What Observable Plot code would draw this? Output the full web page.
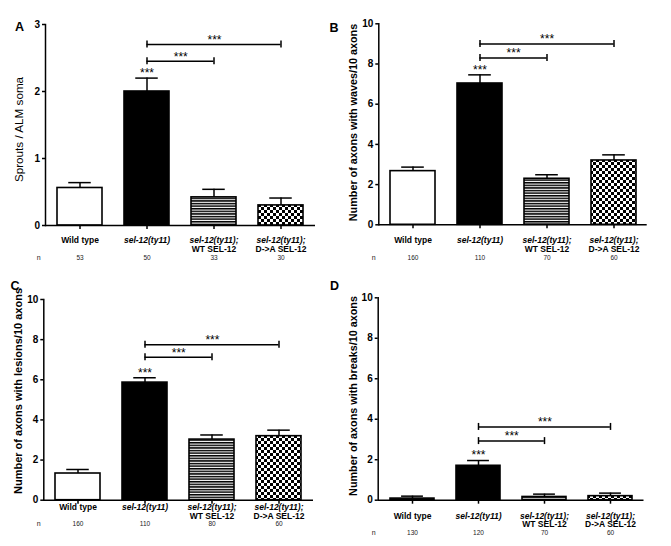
<!DOCTYPE html>
<html><head><meta charset="utf-8">
<script src="https://cdn.jsdelivr.net/npm/d3@7"></script>
<script src="https://cdn.jsdelivr.net/npm/@observablehq/plot@0.6"></script>
<style>
body{margin:0;background:#fff;}
#wrap{position:relative;width:671px;height:546px;overflow:hidden;}
.panel{position:absolute;}
</style></head><body><div id="wrap"></div>
<script>
// ---- data ----
const categories = ["Wild type", "sel-12(ty11)", "sel-12(ty11); WT SEL-12", "sel-12(ty11); D->A SEL-12"];
const labelLine1 = ["Wild type", "sel-12(ty11)", "sel-12(ty11);", "sel-12(ty11);"];
const italicLine1 = [false, true, true, true];
const labelLine2 = ["", "", "WT SEL-12", "D->A SEL-12"];

const meansA = [0.56, 2.0, 0.42, 0.30];
const errTopA = [0.64, 2.2, 0.54, 0.41];
const nA = [53, 50, 33, 30];
const bracketLevelsA = [2.45, 2.7];

const meansB = [2.67, 7.03, 2.29, 3.2];
const errTopB = [2.87, 7.46, 2.49, 3.48];
const nB = [160, 110, 70, 60];
const bracketLevelsB = [8.3, 9.0];

const meansC = [1.33, 5.86, 3.02, 3.19];
const errTopC = [1.53, 6.1, 3.25, 3.49];
const nC = [160, 110, 80, 60];
const bracketLevelsC = [7.12, 7.75];

const meansD = [0.08, 1.70, 0.16, 0.2];
const errTopD = [0.2, 1.96, 0.3, 0.35];
const nD = [130, 120, 70, 60];
const bracketLevelsD = [2.92, 3.62];

const bracketFrom = 1;
const bracketTo = [2, 3];
const ticksA = [0, 1, 2, 3];
const ticks10 = [0, 2, 4, 6, 8, 10];

const font = "'Liberation Sans', Arial, Helvetica, sans-serif";

const panels = [
  {key:"A", letter:"A", left:0, top:0, width:335, ml:45, mr:20, mt:24, mb:48, ymax:3, ticks:ticksA,
   means:meansA, errs:errTopA, n:nA, levels:bracketLevelsA, ylabel:"Sprouts / ALM soma", ylBold:false, ylSize:11.7,
   ylx:19, yly:129, lx:19, ly:26, l1:15, l2:23.5, nd:32},
  {key:"B", letter:"B", left:335, top:0, width:336, ml:43.3, mr:24.3, mt:23.3, mb:48.7, ymax:10, ticks:ticks10,
   means:meansB, errs:errTopB, n:nB, levels:bracketLevelsB, ylabel:"Number of axons with waves/10 axons", ylBold:true, ylSize:10.8,
   ylx:18.3, yly:122, lx:-1.5, ly:27, l1:15, l2:24, nd:33},
  {key:"C", letter:"C", left:0, top:273, width:335, ml:43.3, mr:22, mt:26, mb:46.3, ymax:10, ticks:ticks10,
   means:meansC, errs:errTopC, n:nC, levels:bracketLevelsC, ylabel:"Number of axons with lesions/10 axons", ylBold:true, ylSize:11,
   ylx:18.3, yly:117.5, lx:14.5, ly:12, l1:7, l2:16, nd:23.5},
  {key:"D", letter:"D", left:335, top:273, width:336, ml:42.7, mr:27.5, mt:24.3, mb:46.3, ymax:10, ticks:ticks10,
   means:meansD, errs:errTopD, n:nD, levels:bracketLevelsD, ylabel:"Number of axons with breaks/10 axons", ylBold:true, ylSize:10.8,
   ylx:18.3, yly:122.5, lx:-1, ly:12.5, l1:16, l2:24.5, nd:33}
];

function makePanel(p) {
  const H = 273;
  const fw = p.width - p.ml - p.mr;
  const step = fw / 4;
  const bw = step * 2 / 3;
  const rows = categories.map((c, i) => ({cat: c, mean: p.means[i], err: p.errs[i], n: p.n[i],
    l1: labelLine1[i], l2: labelLine2[i], italic: italicLine1[i]}));
  const brk = bracketTo.map((t, j) => ({from: categories[bracketFrom], to: categories[t], y: p.levels[j], span: t - bracketFrom}));
  const caps = brk.flatMap(b => [{cat: b.from, y: b.y}, {cat: b.to, y: b.y}]);
  const idH = "hs-" + p.key, idC = "ck-" + p.key;
  const frameMidY = (p.mt + (H - p.mb)) / 2;

  const svg = Plot.plot({
    width: p.width, height: H,
    marginLeft: p.ml, marginRight: p.mr, marginTop: p.mt, marginBottom: p.mb,
    style: {fontFamily: font, background: "transparent", overflow: "visible", color: "black"},
    x: {type: "band", domain: categories, paddingInner: 1/3, paddingOuter: 1/6},
    y: {domain: [0, p.ymax]},
    color: {domain: categories, range: ["white", "black", `url(#${idH})`, `url(#${idC})`]},
    marks: [
      Plot.ruleX(rows, {x: "cat", y1: "mean", y2: "err", stroke: "black", strokeWidth: 1.5}),
      Plot.tickY(rows, {x: "cat", y: "err", insetLeft: bw / 4, insetRight: bw / 4, stroke: "black", strokeWidth: 1.5}),
      Plot.barY(rows, {x: "cat", y: "mean", fill: "cat", stroke: "black", strokeWidth: 1.6}),
      Plot.ruleY([0], {stroke: "black", strokeWidth: 1.5}),
      Plot.frame({anchor: "left", stroke: "black", strokeWidth: 1.5}),
      Plot.axisY({ticks: p.ticks, tickFormat: d => String(d), tickSize: 3, tickPadding: 2.5, fontSize: 10, fontWeight: "bold", label: null, strokeWidth: 1.5}),
      Plot.axisX({tickSize: 4, tickFormat: () => "", label: null, strokeWidth: 1.5}),
      // x labels
      Plot.text(rows.filter(r => r.italic), {x: "cat", text: "l1", frameAnchor: "bottom", textAnchor: "middle", lineAnchor: "middle",
        dy: p.l1, fontSize: 8.5, fontWeight: "bold", fontStyle: "italic"}),
      Plot.text(rows.filter(r => !r.italic), {x: "cat", text: "l1", frameAnchor: "bottom", textAnchor: "middle", lineAnchor: "middle",
        dy: p.l1, fontSize: 8.5, fontWeight: "bold"}),
      Plot.text(rows.filter(r => r.l2), {x: "cat", text: "l2", frameAnchor: "bottom", textAnchor: "middle", lineAnchor: "middle",
        dy: p.l2, fontSize: 8.5, fontWeight: "bold"}),
      // n row
      Plot.text(rows, {x: "cat", text: d => String(d.n), frameAnchor: "bottom", textAnchor: "middle", lineAnchor: "middle",
        dy: p.nd, fontSize: 6.5, fill: "#222"}),
      Plot.text(["n"], {text: d => d, frameAnchor: "bottom-left", textAnchor: "middle", lineAnchor: "middle",
        dx: 38.3 - p.ml, dy: p.nd, fontSize: 7, fill: "#222"}),
      // significance
      Plot.text([rows[bracketFrom]], {x: "cat", y: "err", text: () => "***", dy: -5, fontSize: 12}),
      Plot.ruleY(brk, {y: "y", x1: "from", x2: "to", insetLeft: bw / 2, insetRight: bw / 2, stroke: "black", strokeWidth: 1.5}),
      Plot.ruleX(caps, {x: "cat", y1: "y", y2: "y", insetTop: -3.5, insetBottom: -3.5, stroke: "black", strokeWidth: 1.5}),
      ...brk.map(b => Plot.text([b], {x: "from", y: "y", text: () => "***", dx: b.span * step / 2, dy: -4.5, fontSize: 12})),
      // y label
      Plot.text([p.ylabel], {text: d => d, frameAnchor: "left", textAnchor: "middle", lineAnchor: "middle", rotate: -90,
        dx: p.ylx - p.ml, dy: p.yly - frameMidY, fontSize: p.ylSize, fontWeight: p.ylBold ? "bold" : "normal"}),
      // panel letter
      Plot.text([p.letter], {text: d => d, frameAnchor: "top-left", textAnchor: "middle", lineAnchor: "middle",
        dx: p.lx - p.ml, dy: p.ly - p.mt, fontSize: 12.5, fontWeight: "bold"})
    ]
  });
  d3.select(svg).insert("defs", ":first-child").html(
    `<pattern id="${idH}" patternUnits="userSpaceOnUse" width="6" height="2.6">
       <rect width="6" height="2.6" fill="white"/><rect width="6" height="1.5" fill="black"/></pattern>
     <pattern id="${idC}" patternUnits="userSpaceOnUse" width="6" height="6">
       <rect width="6" height="6" fill="white"/><rect width="3" height="3" fill="black"/><rect x="3" y="3" width="3" height="3" fill="black"/></pattern>`);
  const div = document.createElement("div");
  div.className = "panel";
  div.style.left = p.left + "px";
  div.style.top = p.top + "px";
  div.appendChild(svg);
  document.getElementById("wrap").appendChild(div);
}
panels.forEach(makePanel);
</script></body></html>
